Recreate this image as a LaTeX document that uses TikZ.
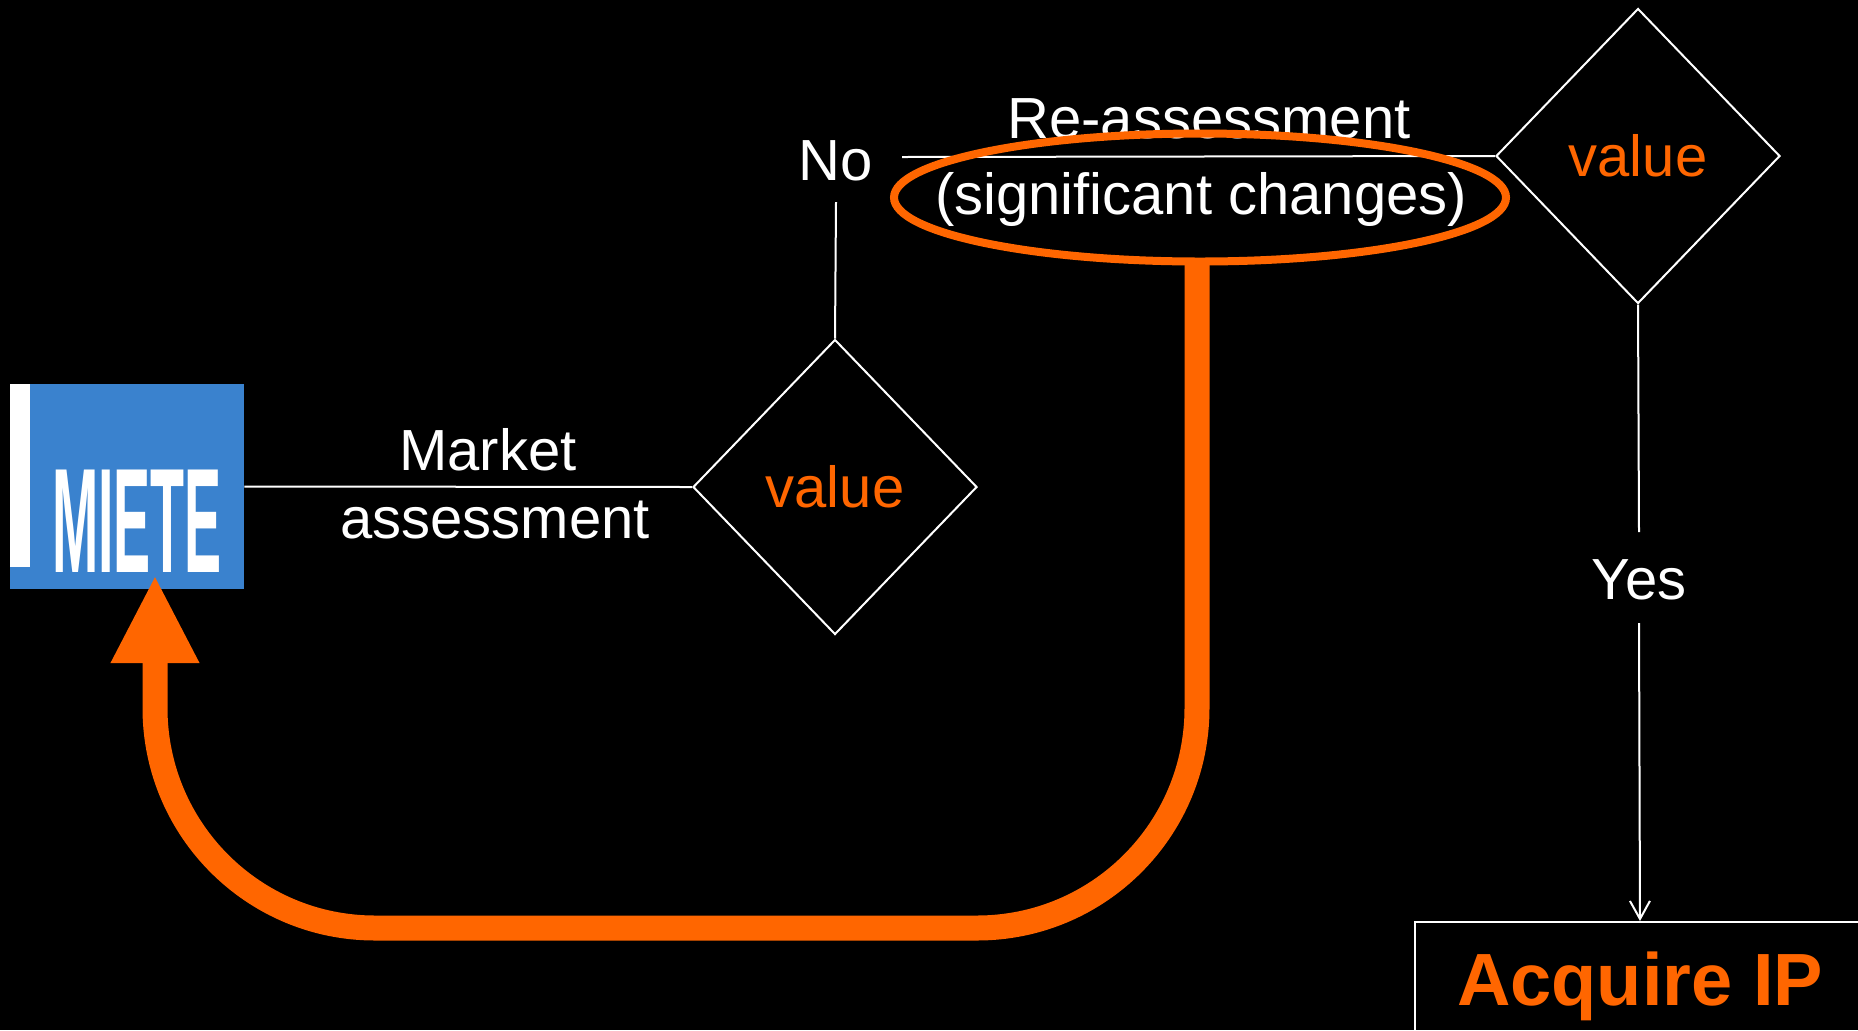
\documentclass[tikz,border=0pt]{standalone}
\usepackage{fontspec}
\setmainfont{Liberation Sans}
\usetikzlibrary{shapes.geometric,arrows.meta}
\definecolor{ora}{RGB}{255,102,0}
\definecolor{logoblue}{RGB}{58,130,206}
\begin{document}
\begin{tikzpicture}[x=0.5pt,y=-0.5pt,
  wline/.style={draw=white,line width=1pt},
  lbl/.style={text=white,font=\fontsize{29pt}{34pt}\selectfont,inner sep=0pt,anchor=base},
  decbox/.style={diamond,draw=white,line width=1pt,aspect=0.963,minimum width=142pt,
    minimum height=147.5pt,inner sep=0pt,text=ora,font=\fontsize{29pt}{34pt}\selectfont},
  loopline/.style={draw=ora,line width=12.5pt,rounded corners=110pt,
    -{Triangle[length=44pt,width=41pt]}},
  hilite/.style={draw=ora,line width=4pt}]
\fill[black] (0,0) rectangle (1858,1030);
\useasboundingbox (0,0) rectangle (1858,1030);
\clip (0,0) rectangle (1858,1030);

% logo
\node[fill=logoblue,minimum width=117pt,minimum height=102.5pt,inner sep=0pt] (logo) at (127,486.5) {};
\fill[white] (10,384) rectangle (30,567);
\node[text=white,font=\fontsize{74.5pt}{80pt}\selectfont\bfseries,inner sep=0pt,anchor=base] (miete) at (137,572) {\scalebox{0.373}[1]{MIETE}};

% diamonds
\node[decbox] (d1) at (835,487) {value};
\node[decbox] (d2) at (1638,156) {value};

% labels
\node[lbl] (mkt) at (488,470) {Market};
\node[lbl] (mkt2) at (495,538) {assessment};
\node[lbl] (no) at (836,180) {No};
\node[lbl] (reas) at (1209,138) {Re-assessment};
\node[lbl] (sig) at (1201,214) {(significant changes)};
\node[lbl] (yes) at (1639,599) {Yes};

% acquire box
\node[draw=white,line width=1pt,minimum width=225pt,minimum height=64pt,inner sep=0pt,
  text=ora,font=\fontsize{37pt}{42pt}\selectfont\bfseries] (acq) at (1640,986) {Acquire IP};

% coordinates
\coordinate (nobot) at (836,202);
\coordinate (hl) at (902,157);
\coordinate (yestop) at (1639,532);
\coordinate (yesbot) at (1639,623);
\coordinate (ellc) at (1200,197.5);
\coordinate (ellbot) at (1197,264);
\coordinate (tip) at (155,575);

% connectors
\draw[wline] (logo.east) -- (d1.west);
\draw[wline] (d1.north) -- (nobot);
\draw[wline] (hl) -- (d2.west);
\draw[wline] (d2.south) -- (yestop);
\draw[wline,-{Straight Barb[length=9pt,width=10pt]}] (yesbot) -- (acq.north);

% highlight ellipse
\draw[hilite] (ellc) ellipse [x radius=153pt, y radius=32pt];

% orange loop arrow
\draw[loopline] (ellbot) -- (ellbot |- 0,928) -- (tip |- 0,928) -- (tip);
\end{tikzpicture}
\end{document}
